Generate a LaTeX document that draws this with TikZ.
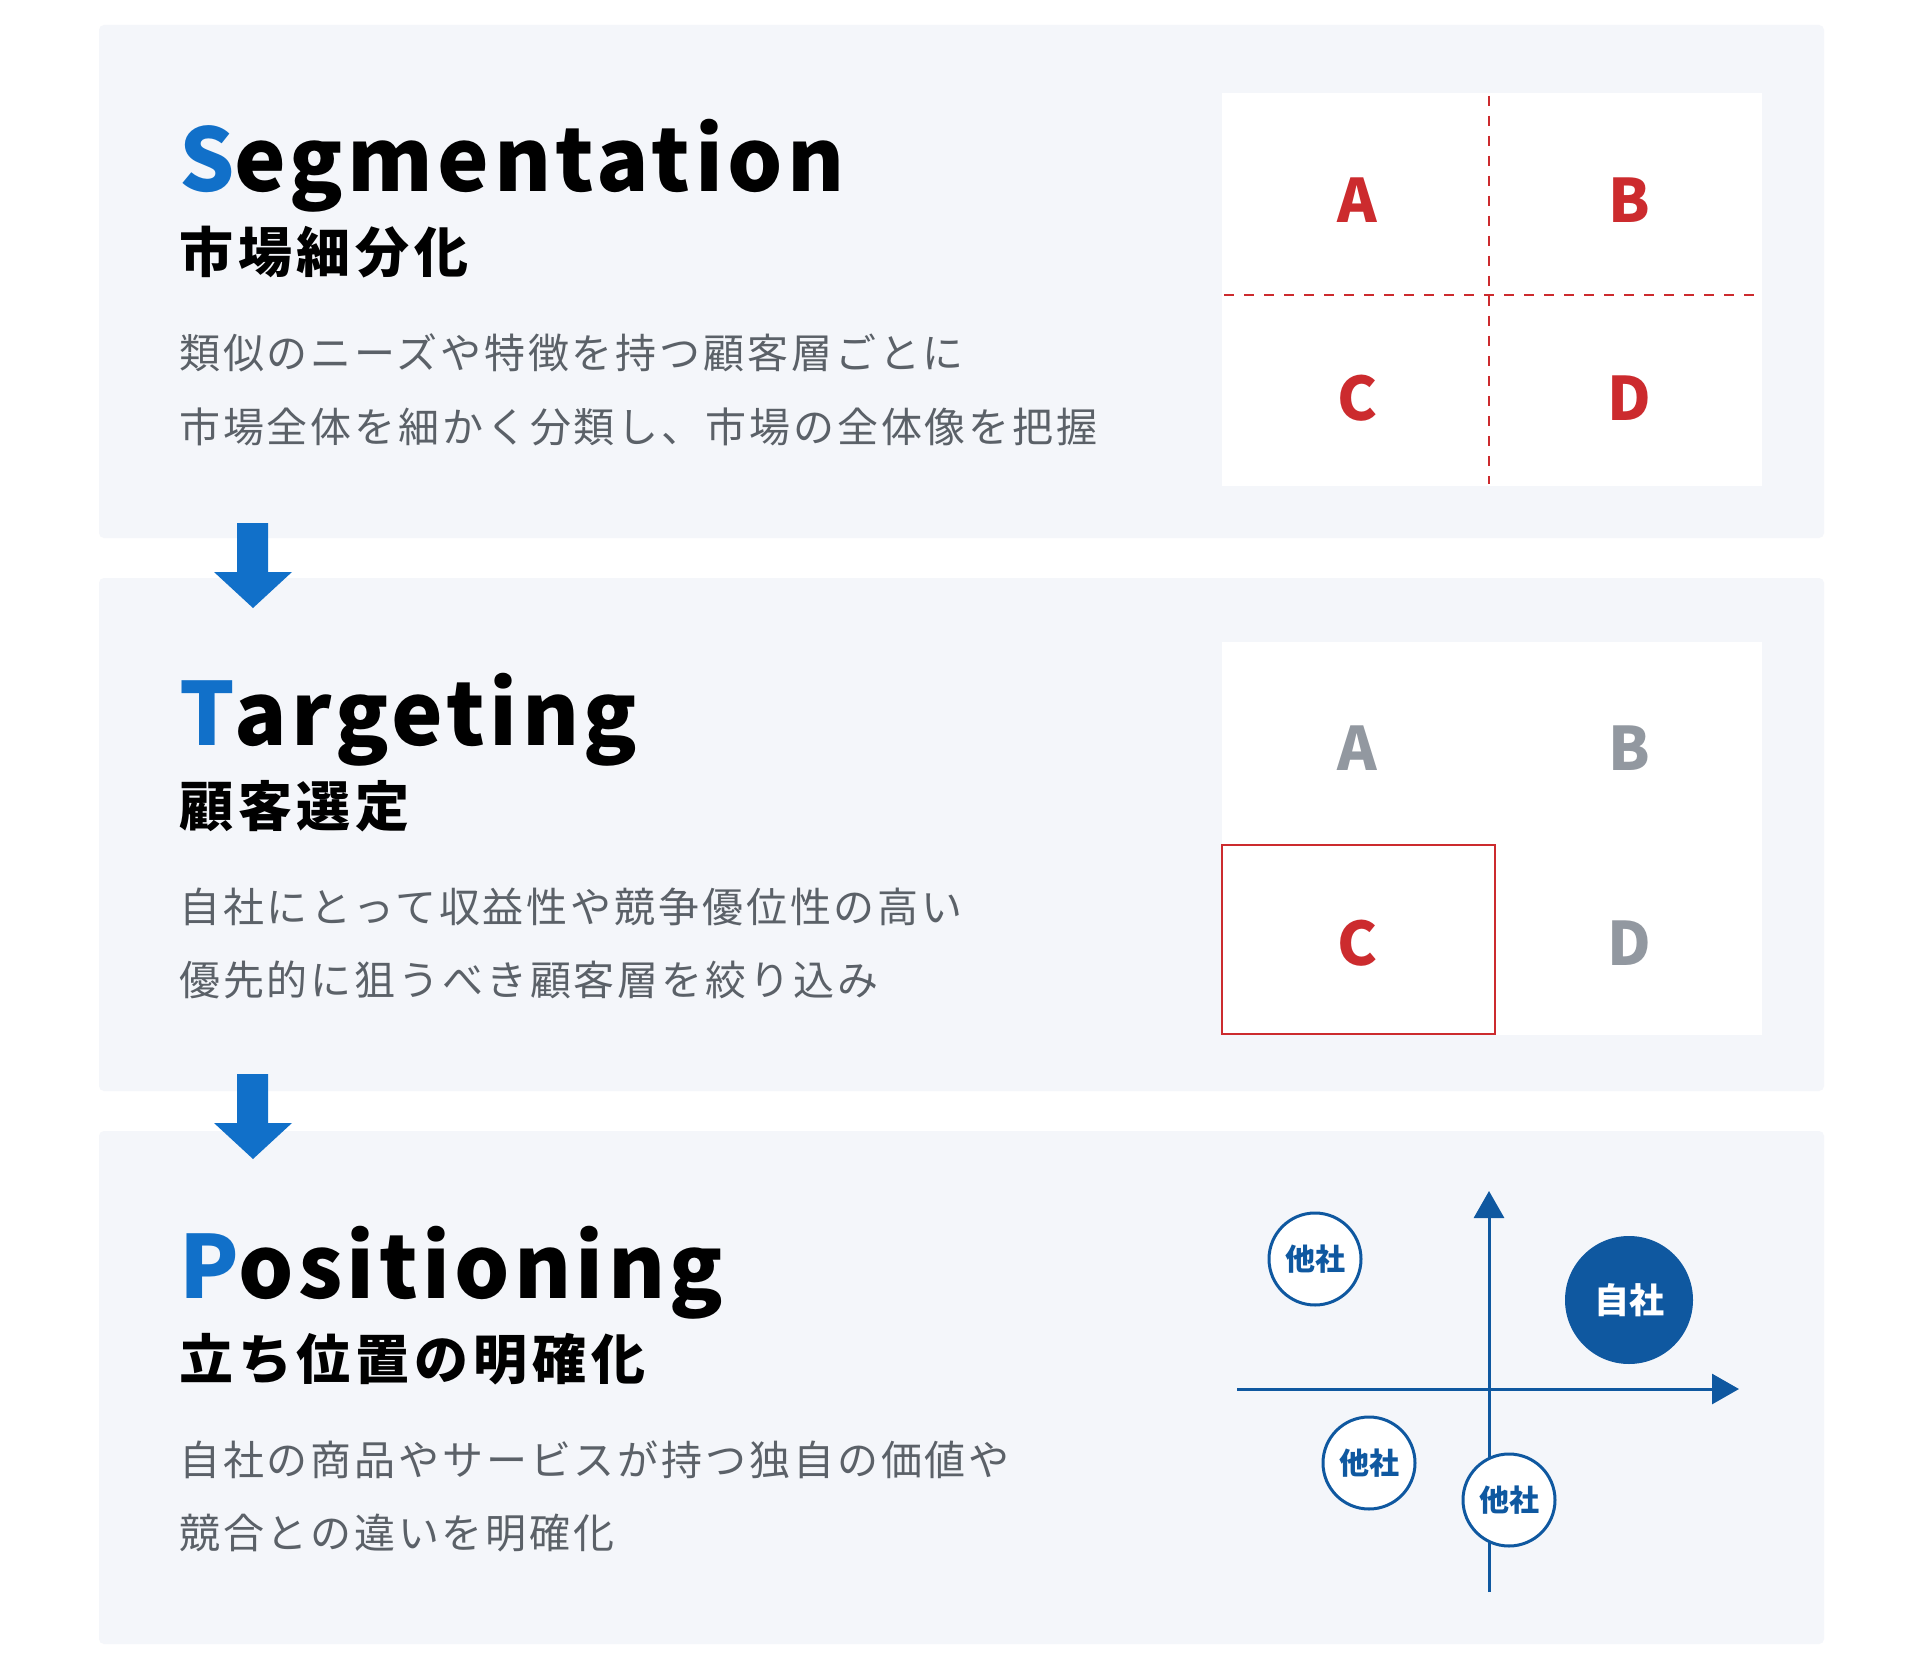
\documentclass[tikz,border=0pt]{standalone}
\usepackage{fontspec}
\setmainfont{Noto Sans CJK JP}
\newfontfamily\titlefont[LetterSpace=5]{Noto Sans CJK JP}
\newfontfamily\subfont[LetterSpace=9]{Noto Sans CJK JP}
\newfontfamily\descfont[LetterSpace=7]{Noto Sans CJK JP}
\usetikzlibrary{arrows.meta}
\definecolor{panelbg}{HTML}{F4F6FA}
\definecolor{keyblue}{HTML}{1170C9}
\definecolor{axisblue}{HTML}{0F58A0}
\definecolor{segred}{HTML}{CC2B2E}
\definecolor{letgray}{HTML}{9298A0}
\definecolor{descgray}{HTML}{5B6168}

\begin{document}
\begin{tikzpicture}[x=1pt,y=-1pt,
		panel/.style={fill=panelbg,rounded corners=5pt},
		title/.style={anchor=base west,inner sep=0,font=\titlefont\bfseries\fontsize{87}{87}\selectfont},
		subtitle/.style={anchor=base west,inner sep=0,font=\subfont\bfseries\fontsize{54}{54}\selectfont},
		desc/.style={anchor=base west,inner sep=0,text=descgray,font=\descfont\fontsize{41}{41}\selectfont},
		cell/.style={inner sep=0,font=\bfseries\fontsize{60}{60}\selectfont},
		rival/.style={circle,draw=axisblue,line width=3pt,fill=white,minimum size=92pt,inner sep=0,text=axisblue,font=\bfseries\fontsize{30}{30}\selectfont},
		own/.style={circle,fill=axisblue,minimum size=128pt,inner sep=0,text=white,font=\bfseries\fontsize{35}{35}\selectfont},
		axis/.style={draw=axisblue,line width=3pt,-{Triangle[length=27pt,width=30pt]}}]
		\useasboundingbox (0,0) rectangle (1920,1680);
		\fill[white] (0,0) rectangle (1920,1680);

		% panels
		\fill[panel] (99,25) rectangle (1824,538);
		\fill[panel] (99,578) rectangle (1824,1091);
		\fill[panel] (99,1131) rectangle (1824,1644);
		\foreach \y in {0,551}
			\fill[keyblue] (237,523+\y) -- (268,523+\y) -- (268,572+\y) -- (292,572+\y) -- (253,608+\y) -- (214,572+\y) -- (237,572+\y) -- cycle;

		% Segmentation
		\node[title] (segtitle) at (179,192) {{\color{keyblue}S}egmentation};
		\node[subtitle] (segsub) at (179,273) {市場細分化};
		\node[desc] (segdesc1) at (179,369) {類似のニーズや特徴を持つ顧客層ごとに};
		\node[desc] (segdesc2) at (179,442) {市場全体を細かく分類し、市場の全体像を把握};

		\fill[white] (1222,93) rectangle (1762,486);
		\draw[segred,line width=2.5pt,dash pattern=on 10pt off 10pt] (1489,96) -- (1489,484);
		\draw[segred,line width=2.5pt,dash pattern=on 10pt off 10pt] (1224,295) -- (1760,295);
		\node[cell,text=segred] (sa) at (1357,200) {A};
		\node[cell,text=segred] (sb) at (1629,200) {B};
		\node[cell,text=segred] (sc) at (1357,398) {C};
		\node[cell,text=segred] (sd) at (1629,398) {D};

		% Targeting
		\node[title] (tartitle) at (179,745) {{\color{keyblue}T}argeting};
		\node[subtitle] (tarsub) at (179,826) {顧客選定};
		\node[desc] (tardesc1) at (179,922) {自社にとって収益性や競争優位性の高い};
		\node[desc] (tardesc2) at (179,995) {優先的に狙うべき顧客層を絞り込み};

		\fill[white] (1222,642) rectangle (1762,1035);
		\draw[segred,line width=2.5pt] (1222,845) rectangle (1495,1034);
		\node[cell,text=letgray] (ta) at (1357,748) {A};
		\node[cell,text=letgray] (tb) at (1629,748) {B};
		\node[cell,text=segred] (tc) at (1357,943) {C};
		\node[cell,text=letgray] (td) at (1629,943) {D};

		% Positioning
		\node[title] (postitle) at (179,1298) {{\color{keyblue}P}ositioning};
		\node[subtitle] (possub) at (179,1379) {立ち位置の明確化};
		\node[desc] (posdesc1) at (179,1475) {自社の商品やサービスが持つ独自の価値や};
		\node[desc] (posdesc2) at (179,1548) {競合との違いを明確化};

		\coordinate (xl) at (1237,1389);
		\coordinate (xr) at (1739,1389);
		\coordinate (yb) at (1489,1592);
		\coordinate (yt) at (1489,1191);
		\draw[axis] (xl) -- (xr);
		\draw[axis] (yb) -- (yt);
		\node[rival] (rival1) at (1315,1259) {他社};
		\node[rival] (rival2) at (1369,1463) {他社};
		\node[rival] (rival3) at (1509,1500) {他社};
		\node[own] (self) at (1629,1300) {自社};
	\end{tikzpicture}
\end{document}
